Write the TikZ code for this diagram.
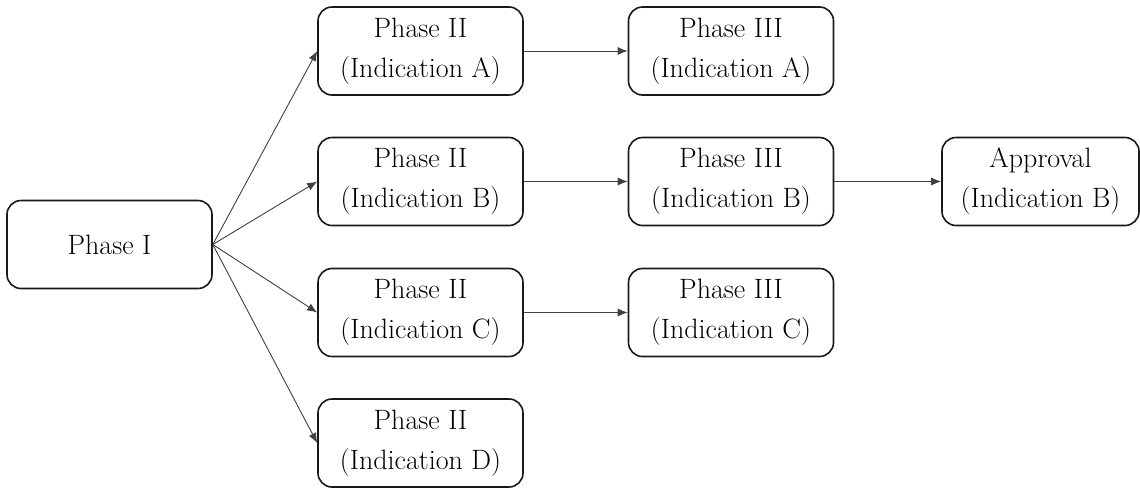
\documentclass[tikz,border=0pt]{standalone}
\usetikzlibrary{arrows.meta}
\begin{document}
\begin{tikzpicture}[x=1pt,y=-1pt,
  box/.style={draw=black!90, line width=1.6pt, rounded corners=14pt, fill=white,
    minimum width=205pt, minimum height=88pt, inner sep=0pt, align=center,
    font=\fontsize{28}{40}\selectfont, text=black},
  conn/.style={draw=black!75, line width=0.9pt, -{Latex[length=10pt,width=8pt]}}]
\useasboundingbox (0,0) rectangle (1140,491);
\node[box] (p1) at (109.5,244.5) {Phase I};
\node[box] (p2a) at (420.5,51) {Phase II\\(Indication A)};
\node[box] (p2b) at (420.5,181.5) {Phase II\\(Indication B)};
\node[box] (p2c) at (420.5,312.5) {Phase II\\(Indication C)};
\node[box] (p2d) at (420.5,443) {Phase II\\(Indication D)};
\node[box] (p3a) at (731,51) {Phase III\\(Indication A)};
\node[box] (p3b) at (731,181.5) {Phase III\\(Indication B)};
\node[box] (p3c) at (731,312.5) {Phase III\\(Indication C)};
\node[box, minimum width=197pt] (ap) at (1040.5,181.5) {Approval\\(Indication B)};
\draw[conn] (p1.east) -- (p2a.west);
\draw[conn] (p1.east) -- (p2b.west);
\draw[conn] (p1.east) -- (p2c.west);
\draw[conn] (p1.east) -- (p2d.west);
\draw[conn] (p2a) -- (p3a);
\draw[conn] (p2b) -- (p3b);
\draw[conn] (p2c) -- (p3c);
\draw[conn] (p3b) -- (ap);
\end{tikzpicture}
\end{document}
